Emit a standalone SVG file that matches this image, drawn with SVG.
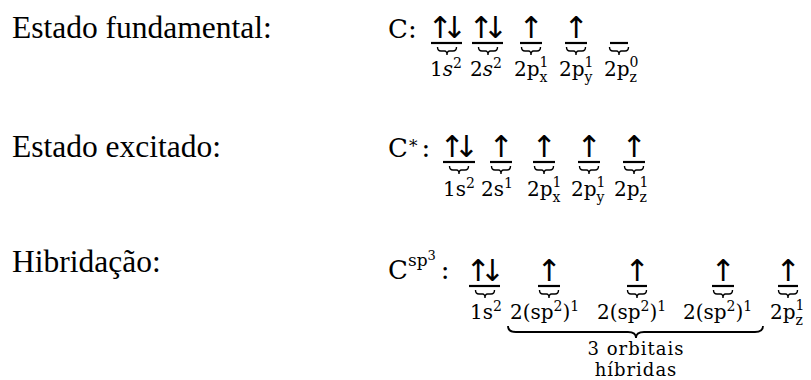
<svg xmlns="http://www.w3.org/2000/svg" width="811" height="380" viewBox="0 0 811 380">
<style>
.lbl{font-family:"Liberation Serif",serif;font-size:31.5px;fill:#000}
.m{font-family:"DejaVu Serif",serif;font-size:26px;fill:#000}
.t{font-family:"DejaVu Serif",serif;font-size:20px;fill:#000}
.s{font-size:14px}
.ar{font-family:"DejaVu Sans",sans-serif;font-size:30px;text-anchor:middle;fill:#000}
.pr{font-family:"DejaVu Sans",sans-serif;font-size:30px;fill:#000;letter-spacing:-11px}
.ln{stroke:#000;stroke-width:2.2}
.br{fill:none;stroke:#000;stroke-width:1.4}
.c{font-family:"DejaVu Serif",serif;font-size:18px;letter-spacing:1px;text-anchor:middle;fill:#000}
</style>
<defs>
<path id="brace" class="br" d="M-9.5,0 Q-9.5,4 -6,4 L-2.5,4 Q0,4 0,8 Q0,4 2.5,4 L6,4 Q9.5,4 9.5,0"/>
</defs>
<rect width="811" height="380" fill="#fff"/>

<g id="row1">
<text class="lbl" x="12" y="38">Estado fundamental:</text>
<text class="m" x="388" y="38">C:</text>
<g id="r1-1s"><text class="pr" x="427.5" y="38">↑↓</text><line class="ln" x1="431" y1="43" x2="462" y2="43"/><use href="#brace" x="447" y="47"/><text class="t" x="430" y="76">1<tspan font-style="italic">s</tspan><tspan class="s" dy="-8">2</tspan></text></g>
<g id="r1-2s"><text class="pr" x="468.5" y="38">↑↓</text><line class="ln" x1="472" y1="43" x2="503" y2="43"/><use href="#brace" x="488" y="47"/><text class="t" x="470" y="76">2<tspan font-style="italic">s</tspan><tspan class="s" dy="-8">2</tspan></text></g>
<g id="r1-2px"><text class="ar" x="531" y="38">↑</text><line class="ln" x1="520" y1="43" x2="542" y2="43"/><use href="#brace" x="531" y="47"/><text class="t" x="514" y="76">2p<tspan class="s" dy="-9">1</tspan><tspan class="s" dx="-8.9" dy="15">x</tspan></text></g>
<g id="r1-2py"><text class="ar" x="576" y="38">↑</text><line class="ln" x1="565" y1="43" x2="587" y2="43"/><use href="#brace" x="576" y="47"/><text class="t" x="559" y="76">2p<tspan class="s" dy="-9">1</tspan><tspan class="s" dx="-8.9" dy="15">y</tspan></text></g>
<g id="r1-2pz"><line class="ln" x1="610" y1="43" x2="628" y2="43"/><use href="#brace" x="619" y="47"/><text class="t" x="604" y="76">2p<tspan class="s" dy="-9">0</tspan><tspan class="s" dx="-8.9" dy="15">z</tspan></text></g>
</g>

<g id="row2">
<text class="lbl" x="12" y="157">Estado excitado:</text>
<text class="m" x="388" y="157">C<tspan style="font-size:17px" dx="1" dy="-5">*</tspan><tspan dx="4" dy="5">:</tspan></text>
<g id="r2-1s"><text class="pr" x="439.5" y="157">↑↓</text><line class="ln" x1="443" y1="162" x2="475" y2="162"/><use href="#brace" x="459" y="166"/><text class="t" x="443" y="196">1s<tspan class="s" dy="-8">2</tspan></text></g>
<g id="r2-2s"><text class="ar" x="501" y="157">↑</text><line class="ln" x1="490" y1="162" x2="512" y2="162"/><use href="#brace" x="501" y="166"/><text class="t" x="481" y="196">2s<tspan class="s" dy="-8">1</tspan></text></g>
<g id="r2-2px"><text class="ar" x="544" y="157">↑</text><line class="ln" x1="533" y1="162" x2="555" y2="162"/><use href="#brace" x="544" y="166"/><text class="t" x="527" y="196">2p<tspan class="s" dy="-9">1</tspan><tspan class="s" dx="-8.9" dy="15">x</tspan></text></g>
<g id="r2-2py"><text class="ar" x="589" y="157">↑</text><line class="ln" x1="578" y1="162" x2="600" y2="162"/><use href="#brace" x="589" y="166"/><text class="t" x="571" y="196">2p<tspan class="s" dy="-9">1</tspan><tspan class="s" dx="-8.9" dy="15">y</tspan></text></g>
<g id="r2-2pz"><text class="ar" x="634" y="157">↑</text><line class="ln" x1="623" y1="162" x2="645" y2="162"/><use href="#brace" x="634" y="166"/><text class="t" x="614" y="196">2p<tspan class="s" dy="-9">1</tspan><tspan class="s" dx="-8.9" dy="15">z</tspan></text></g>
</g>

<g id="row3">
<text class="lbl" x="12" y="272">Hibridação:</text>
<text class="m" x="388" y="279">C<tspan style="font-size:17px" dy="-13">sp</tspan><tspan style="font-size:13px" dy="-6">3</tspan><tspan dx="5" dy="19">:</tspan></text>
<g id="r3-1s"><text class="pr" x="465.5" y="281">↑↓</text><line class="ln" x1="469" y1="286" x2="500" y2="286"/><use href="#brace" x="485" y="290"/><text class="t" x="470" y="319">1s<tspan class="s" dy="-8">2</tspan></text></g>
<g id="r3-sp1"><text class="ar" x="549" y="281">↑</text><line class="ln" x1="538" y1="286" x2="560" y2="286"/><use href="#brace" x="549" y="290"/><text class="t" x="510" y="319">2(sp<tspan class="s" dy="-8">2</tspan><tspan dy="8">)</tspan><tspan class="s" dy="-8">1</tspan></text></g>
<g id="r3-sp2"><text class="ar" x="637" y="281">↑</text><line class="ln" x1="627" y1="286" x2="647" y2="286"/><use href="#brace" x="637" y="290"/><text class="t" x="597" y="319">2(sp<tspan class="s" dy="-8">2</tspan><tspan dy="8">)</tspan><tspan class="s" dy="-8">1</tspan></text></g>
<g id="r3-sp3"><text class="ar" x="723" y="281">↑</text><line class="ln" x1="712" y1="286" x2="734" y2="286"/><use href="#brace" x="723" y="290"/><text class="t" x="683" y="319">2(sp<tspan class="s" dy="-8">2</tspan><tspan dy="8">)</tspan><tspan class="s" dy="-8">1</tspan></text></g>
<g id="r3-2pz"><text class="ar" x="788" y="281">↑</text><line class="ln" x1="778" y1="286" x2="798" y2="286"/><use href="#brace" x="788" y="290"/><text class="t" x="770" y="319">2p<tspan class="s" dy="-9">1</tspan><tspan class="s" dx="-8.9" dy="15">z</tspan></text></g>
<g id="hybrid-group">
<path class="br" style="stroke-width:1.8" d="M508,326 Q508,332 516,332 L628,332 Q636,332 636,338 Q636,332 644,332 L755,332 Q763,332 763,326"/>
<text class="c" x="636" y="354.5">3 orbitais</text>
<text class="c" x="636" y="375.5">híbridas</text>
</g>
</g>
</svg>
